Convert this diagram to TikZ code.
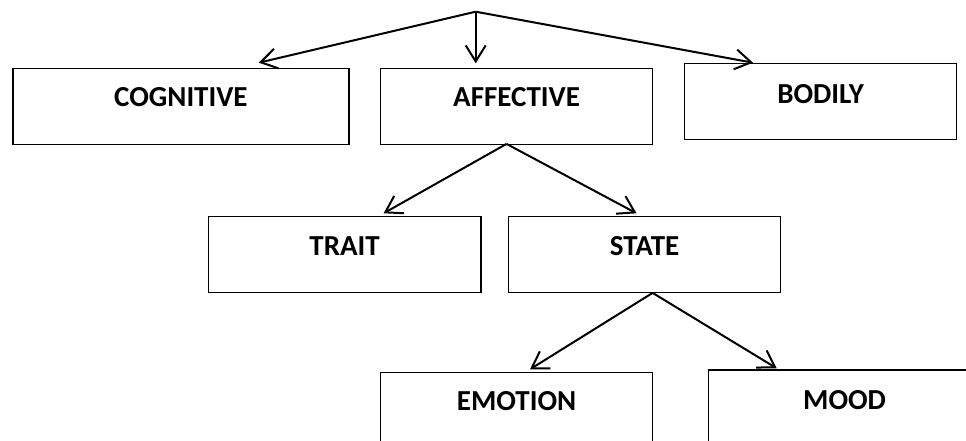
\documentclass[tikz,border=0pt]{standalone}
\usepackage{fontspec}
\setmainfont{Carlito}
\usetikzlibrary{arrows.meta}
\begin{document}
\begin{tikzpicture}[x=1pt,y=-1pt,
  box/.style={draw=black, line width=1.2pt, inner sep=0pt, anchor=north west,
    font=\fontsize{29}{34}\selectfont\bfseries, align=center},
  arr/.style={line width=2pt, -{Straight Barb[length=16pt,width=20pt,line width=2pt]}}]
\clip (0,0) rectangle (966,441);
\fill[white] (0,0) rectangle (966,441);
% level 1
\node[box, minimum width=336pt, text height=38.3pt, text depth=38pt] (cog) at (12.3,67.7) {COGNITIVE};
\node[box, minimum width=272pt, text height=38.3pt, text depth=38pt] (aff) at (380,67.7) {AFFECTIVE};
\node[box, minimum width=272pt, text height=39.7pt, text depth=36.3pt] (bod) at (684,63.3) {BODILY};
% level 2
\node[box, minimum width=272.7pt, text height=38.8pt, text depth=37.2pt] (trait) at (207.7,215.7) {TRAIT};
\node[box, minimum width=272pt, text height=38.8pt, text depth=37.2pt] (state) at (508,215.7) {STATE};
% level 3
\node[box, minimum width=272pt, text height=37.8pt, text depth=60pt] (emo) at (380,371.7) {EMOTION};
\node[box, minimum width=272pt, text height=39.2pt, text depth=60pt] (mood) at (708,369.3) {MOOD};
% connectors
\coordinate (top) at (475.7,11.7);
\draw[arr] (top) -- ([xshift=246.5pt, yshift=5pt]cog.north west);
\draw[arr] (top) -- ([xshift=95.7pt, yshift=4.4pt]aff.north west);
\draw[arr] (top) -- ([xshift=69pt, yshift=0.6pt]bod.north west);
\coordinate (affb) at ([xshift=126.5pt, yshift=1.3pt]aff.south west);
\draw[arr] (affb) -- ([xshift=175.9pt, yshift=2.4pt]trait.north west);
\draw[arr] (affb) -- ([xshift=128.5pt, yshift=2.4pt]state.north west);
\coordinate (stateb) at ([xshift=144.6pt]state.south west);
\draw[arr] (stateb) -- ([xshift=150pt, yshift=2.4pt]emo.north west);
\draw[arr] (stateb) -- ([xshift=68.7pt, yshift=1pt]mood.north west);
\end{tikzpicture}
\end{document}
